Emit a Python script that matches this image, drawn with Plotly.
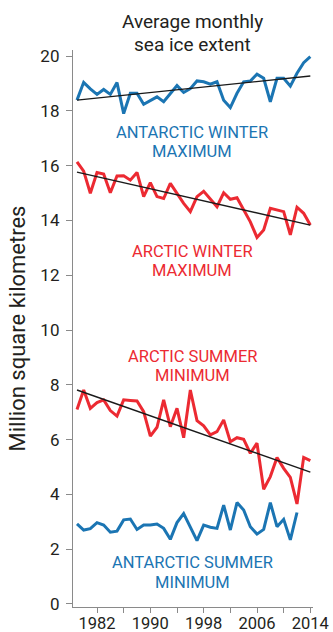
import plotly.graph_objects as go

# ---------------- data ----------------
years = list(range(1979, 2015))
antarctic_winter_max = [18.39, 19.04, 18.80, 18.60, 18.78, 18.60, 19.03, 17.90, 18.64, 18.64,
                        18.24, 18.39, 18.51, 18.33, 18.64, 18.92, 18.67, 18.81, 19.09, 19.06,
                        18.97, 19.06, 18.39, 18.12, 18.64, 19.06, 19.09, 19.34, 19.19, 18.33,
                        19.19, 19.19, 18.90, 19.37, 19.76, 19.98]
arctic_winter_max = [16.14, 15.80, 14.99, 15.75, 15.69, 15.01, 15.62, 15.63, 15.47, 15.75,
                     14.87, 15.38, 14.87, 14.80, 15.35, 14.99, 14.62, 14.32, 14.87, 15.06,
                     14.80, 14.50, 15.01, 14.77, 14.83, 14.38, 13.95, 13.38, 13.65, 14.44,
                     14.38, 14.32, 13.47, 14.48, 14.26, 13.83]
arctic_summer_min = [7.10, 7.81, 7.14, 7.35, 7.45, 7.06, 6.86, 7.45, 7.43, 7.41,
                     7.02, 6.13, 6.45, 7.45, 6.47, 7.14, 6.07, 7.81, 6.69, 6.50,
                     6.17, 6.29, 6.72, 5.92, 6.07, 6.01, 5.50, 5.87, 4.19, 4.65,
                     5.35, 4.95, 4.62, 3.65, 5.35, 5.23]
antarctic_summer_years = list(range(1979, 2013))
antarctic_summer_min = [2.92, 2.70, 2.75, 2.97, 2.88, 2.62, 2.66, 3.07, 3.10, 2.72,
                        2.88, 2.88, 2.92, 2.76, 2.36, 2.97, 3.30, 2.80, 2.31, 2.88,
                        2.80, 2.76, 3.61, 2.70, 3.70, 3.43, 2.82, 2.55, 2.72, 3.70,
                        2.82, 3.09, 2.34, 3.34]

trend_years = [1979, 2014]
antarctic_winter_trend = [18.39, 19.27]
arctic_winter_trend = [15.76, 13.83]
arctic_summer_trend = [7.81, 4.81]

tick_years = [1978, 1982, 1986, 1990, 1994, 1998, 2002, 2006, 2010, 2014]
tick_labels = ["", "1982", "", "1990", "", "1998", "", "2006", "", "2014"]
y_ticks = [0, 2, 4, 6, 8, 10, 12, 14, 16, 18, 20]

title_lines = ["Average monthly", "sea ice extent"]
y_title = "Million square kilometres"

# ---------------- style ----------------
BLUE = "#1b75b3"
RED = "#ec2a32"
TXT = "#231f20"
AX = "#8a8a8a"
FONT = "Roboto"
XMID = 1996.25

fig = go.Figure()

def series(x, y, color):
    fig.add_trace(go.Scatter(x=x, y=y, mode="lines",
                             line=dict(color=color, width=3, shape="linear"),
                             hoverinfo="skip", showlegend=False))

def trend(y):
    fig.add_trace(go.Scatter(x=trend_years, y=y, mode="lines",
                             line=dict(color="#1a1a1a", width=1.4),
                             hoverinfo="skip", showlegend=False))

series(years, antarctic_winter_max, BLUE)
trend(antarctic_winter_trend)
series(years, arctic_winter_max, RED)
trend(arctic_winter_trend)
series(years, arctic_summer_min, RED)
trend(arctic_summer_trend)
series(antarctic_summer_years, antarctic_summer_min, BLUE)

labels = [
    ("ANTARCTIC WINTER", 17.22, BLUE), ("MAXIMUM", 16.53, BLUE),
    ("ARCTIC WINTER", 12.85, RED), ("MAXIMUM", 12.16, RED),
    ("ARCTIC SUMMER", 9.03, RED), ("MINIMUM", 8.33, RED),
    ("ANTARCTIC SUMMER", 1.50, BLUE), ("MINIMUM", 0.80, BLUE),
]
for text, yv, col in labels:
    fig.add_annotation(x=XMID, y=yv, xref="x", yref="y", text=text,
                       showarrow=False, xanchor="center", yanchor="middle",
                       font=dict(family=FONT, size=16.5, color=col))

for text, yp in zip(title_lines, [1.052, 1.010]):
    fig.add_annotation(x=XMID, y=yp, xref="x", yref="paper", text=text,
                       showarrow=False, xanchor="center", yanchor="middle",
                       font=dict(family=FONT, size=19, color=TXT))

fig.update_layout(
    width=333, height=632,
    margin=dict(l=73, r=20, t=50, b=25, pad=0, autoexpand=False),
    paper_bgcolor="white", plot_bgcolor="white",
    font=dict(family=FONT, color=TXT),
    showlegend=False,
)
fig.update_xaxes(range=[1978.4, 2014.4], tickmode="array", tickvals=tick_years,
                 ticktext=tick_labels, ticks="outside", ticklen=5, tickwidth=1.3,
                 tickcolor=AX, showline=True, linecolor=AX, linewidth=1.3,
                 showgrid=False, zeroline=False, automargin=False,
                 ticklabelstandoff=-4, tickfont=dict(size=16.5, color=TXT))
fig.update_yaxes(range=[-0.11, 20.22], tickmode="array", tickvals=y_ticks,
                 ticks="outside", ticklen=6, tickwidth=1.3, tickcolor=AX,
                 showline=True, linecolor=AX, linewidth=1.3, showgrid=False,
                 zeroline=False, automargin=False, ticklabelstandoff=3,
                 tickfont=dict(size=17, color=TXT),
                 title=dict(text=y_title, font=dict(size=22, color=TXT), standoff=8))

fig.write_html("out.html",
               config={"displayModeBar": False},
               post_script="document.body.style.margin='0';document.body.style.overflow='hidden';")
